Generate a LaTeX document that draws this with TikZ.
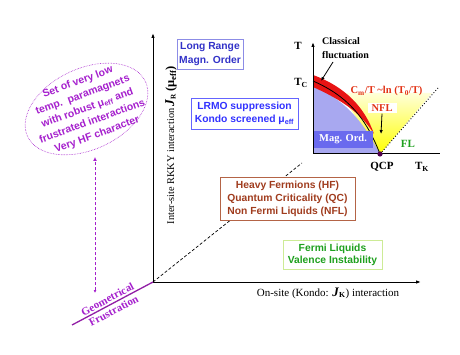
\documentclass[tikz,border=0pt]{standalone}
\usepackage{fontspec}
\setmainfont{Liberation Serif}
\newfontfamily\arial{Liberation Sans}
\usetikzlibrary{arrows.meta,shapes.geometric}
\definecolor{purp}{RGB}{165,32,205}
\definecolor{purpline}{RGB}{145,30,165}
\definecolor{boxblueA}{RGB}{140,140,230}
\definecolor{txtblueA}{RGB}{50,50,200}
\definecolor{boxblueB}{RGB}{100,100,255}
\definecolor{txtblueB}{RGB}{50,50,255}
\definecolor{hfbrown}{RGB}{180,100,70}
\definecolor{hftxt}{RGB}{160,60,30}
\definecolor{flbox}{RGB}{205,235,150}
\definecolor{fltxt}{RGB}{30,160,30}
\definecolor{lav}{RGB}{168,168,240}
\definecolor{magord}{RGB}{106,106,238}
\definecolor{redband}{RGB}{232,20,20}
\definecolor{cmred}{RGB}{226,50,20}
\definecolor{qcpdot}{RGB}{80,0,80}
\begin{document}
\begin{tikzpicture}[x=1pt,y=-1pt,
 regbox/.style={draw, line width=0.8pt, fill=white, align=center, inner sep=2pt},
 boxfont/.style={font=\arial\bfseries\fontsize{10.3}{13}\selectfont},
 axisline/.style={line width=1pt, -{Latex[length=5pt,width=3.5pt]}},
 lbl/.style={font=\bfseries\fontsize{10.5}{12}\selectfont, inner sep=0pt},
 ptr/.style={line width=0.8pt, -{Latex[length=4pt,width=3.5pt]}},
]
\useasboundingbox (0,0) rectangle (460,355);

% ---------- inset phase diagram ----------
\coordinate (O) at (313,154);
\coordinate (QCP) at (380,154);
\coordinate (Ttop) at (313,42);
\coordinate (TKend) at (440,154);
\coordinate (dotend) at (438,88);
% yellow NFL region
\shade[top color=yellow!15, bottom color=yellow] (QCP) -- (432,93) -- (340,93) -- cycle;
% light blue ordered region
\fill[lav] (313,86) .. controls (343,99) and (362,119) .. (QCP) -- (O) -- cycle;
% red fluctuation band
\fill[redband] (313,75) .. controls (346,87) and (365,108) .. (374,134)
   -- (372,131) .. controls (360,113) and (342,100) .. (313,87) -- cycle;
\draw[line width=0.8pt] (313,81) .. controls (345,95) and (365,115) .. (QCP);
% Mag. Ord. box
\node[fill=magord, minimum width=60pt, minimum height=17pt, text=white, lbl] (mo) at (343,139.5) {Mag. Ord.};
% axes
\draw[line width=1pt] (O) -- (TKend);
\draw[axisline] (O) -- (Ttop);
\draw[dotted, line width=0.9pt] (QCP) -- (dotend);
\fill[qcpdot] (QCP) circle (2.6);
% labels
\node[lbl, font=\bfseries\fontsize{11}{12}\selectfont] (T) at (298,46) {T};
\node[lbl, font=\bfseries\fontsize{11}{12}\selectfont] (TC) at (301,83) {T\textsubscript{C}};
\node[lbl, align=left, anchor=west, font=\bfseries\fontsize{10}{13.3}\selectfont] (cf) at (322,48) {Classical\\fluctuation};
\coordinate (cfend) at (321,81);
\draw[ptr] (333,62) -- (cfend);
\node[lbl, text=cmred, font=\bfseries\fontsize{10.5}{12}\selectfont] (cm) at (386.5,91) {C\textsubscript{m}/T \textasciitilde ln (T\textsubscript{0}/T)};
\node[lbl, fill=white, text=cmred, inner sep=2pt, minimum width=29pt] (nfl) at (382,108) {NFL};
\coordinate (nflend) at (381,134);
\draw[ptr] (nfl.south) -- (nflend);
\node[lbl, font=\bfseries\fontsize{11}{12}\selectfont] (qcpl) at (382,167) {QCP};
\node[lbl, font=\bfseries\fontsize{11}{12}\selectfont] (tk) at (422,167) {T\textsubscript{K}};
\node[lbl, text=fltxt, font=\bfseries\fontsize{11}{12}\selectfont] (fl) at (408,144) {FL};

% ---------- main axes ----------
\coordinate (M) at (153,282);
\coordinate (Ytop) at (153,33);
\coordinate (Xend) at (421,282);
\coordinate (diag) at (302,163);
\coordinate (gfend) at (72,325);
\draw[line width=0.7pt, dash pattern=on 3pt off 2pt] (M) -- (diag);
\draw[axisline] (M) -- (Ytop);
\draw[axisline] (M) -- (Xend);
\draw[purpline, line width=1.3pt] (M) -- (gfend);

% region boxes
\node[regbox, boxfont, font=\arial\bfseries\fontsize{10.3}{14.4}\selectfont, draw=boxblueA, text=txtblueA, minimum width=66pt, minimum height=30pt] (lr) at (210,54) {Long Range\\Magn. Order};
\node[regbox, boxfont, font=\arial\bfseries\fontsize{10.3}{12.7}\selectfont, draw=boxblueB, text=txtblueB, minimum width=107pt, minimum height=31pt] (lrmo) at (244.5,113.5) {LRMO suppression\\Kondo screened μ\textsubscript{eff}};
\node[regbox, boxfont, draw=hfbrown, text=hftxt, minimum width=135pt, minimum height=43pt] (hf) at (287.5,198.5) {Heavy Fermions (HF)\\Quantum Criticality (QC)\\Non Fermi Liquids (NFL)};
\node[regbox, boxfont, font=\arial\bfseries\fontsize{10.3}{12}\selectfont, draw=flbox, text=fltxt, minimum width=99pt, minimum height=29pt] (flb) at (332.5,254.5) {Fermi Liquids\\Valence Instability};

% axis labels
\node[rotate=90, font=\fontsize{10.3}{13}\selectfont, inner sep=0pt] (ylab) at (171,145) {Inter-site RKKY interaction \textbf{\textit{\fontsize{13.5}{14}\selectfont J}\textsubscript{R}}\,\textbf{\fontsize{12.5}{14}\selectfont (μ\textsubscript{eff})}};
\node[font=\fontsize{11}{13}\selectfont, inner sep=0pt] (xlab) at (328,293) {On-site (Kondo: \textbf{\textit{\fontsize{13}{14}\selectfont J}\textsubscript{K}}) interaction};

% frustration ellipse
\node[draw=purp, densely dotted, line width=0.6pt, ellipse, minimum width=130pt, minimum height=81pt, rotate=25, inner sep=0pt] (ell) at (86.5,109) {};
\node[rotate=20, text=purp, align=center, inner sep=0pt, font=\arial\bfseries\fontsize{10.5}{14}\selectfont] (etxt) at (87.5,108.5) {Set of very low\\temp.\ \ paramagnets\\with robust μ\textsubscript{eff} and\\frustrated interactions\\Very HF character};
\coordinate (fa) at (95,293);
\coordinate (fb) at (95,157);
\draw[purp, line width=1pt, dash pattern=on 3pt off 2pt, {Latex[length=3pt,width=3pt]}-{Latex[length=4pt,width=4pt]}] (fa) -- (fb);
\node[rotate=28, text=purp, align=center, inner sep=0pt, font=\bfseries\fontsize{11}{13}\selectfont] (gf) at (110.5,305) {Geometrical\\Frustration};
\end{tikzpicture}
\end{document}
